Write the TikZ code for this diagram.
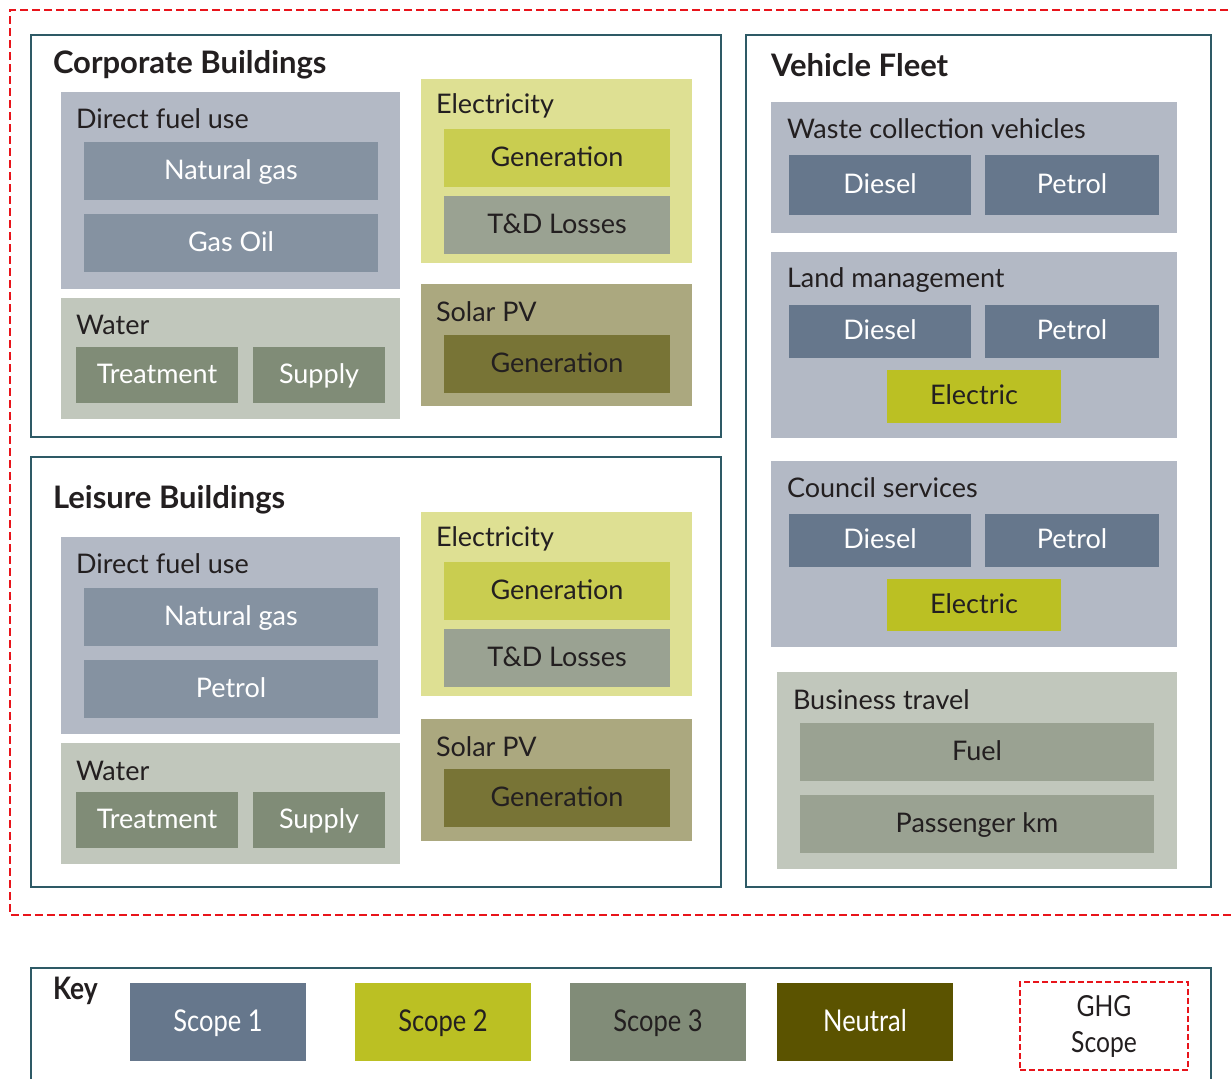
\documentclass[tikz,border=0pt]{standalone}
\usepackage{fontspec}
\setmainfont{Lato}
\definecolor{frame}{HTML}{2E5A66}
\definecolor{ghg}{HTML}{E8141B}
\definecolor{txt}{HTML}{231F20}
\definecolor{dfbg}{HTML}{B3B9C5}
\definecolor{dfit}{HTML}{8592A1}
\definecolor{wbg}{HTML}{C1C7BC}
\definecolor{wit}{HTML}{808C77}
\definecolor{ebg}{HTML}{DEE093}
\definecolor{egen}{HTML}{C9CD50}
\definecolor{etd}{HTML}{9AA292}
\definecolor{sbg}{HTML}{ABA87F}
\definecolor{sgen}{HTML}{787436}
\definecolor{sone}{HTML}{66778C}
\definecolor{stwo}{HTML}{BBC023}
\definecolor{sthree}{HTML}{818C78}
\definecolor{neut}{HTML}{5B5300}
\newcommand{\bx}[7]{\node[#6, anchor=north west, minimum width={#4-#2}, minimum height={#5-#3}] (#1) at (#2,#3) {#7};}
\tikzset{
  every node/.style={inner sep=0pt, outer sep=0pt, font=\fontsize{27}{32}\selectfont},
  panel/.style={draw=frame, line width=1.4pt, fill=white},
  title/.style={anchor=west, text=txt, font=\fontsize{31}{34}\selectfont\bfseries},
  lbl/.style={anchor=west, text=txt},
  item/.style={text height=16pt, text depth=0pt},
  dfbox/.style={fill=dfbg},
  dfitem/.style={item, fill=dfit, text=white},
  wbox/.style={fill=wbg},
  witem/.style={item, fill=wit, text=white},
  ebox/.style={fill=ebg},
  egenb/.style={item, fill=egen, text=txt},
  etdb/.style={item, fill=etd, text=txt},
  sbox/.style={fill=sbg},
  sgenb/.style={item, fill=sgen, text=txt},
  vitem/.style={item, fill=sone, text=white},
  elitem/.style={item, fill=stwo, text=txt},
  keyitem/.style={text height=19pt, text depth=0pt, font=\fontsize{30}{34}\selectfont},
  ghgline/.style={draw=ghg, line width=2.6pt, dash pattern=on 8pt off 4pt},
}
\begin{document}
\begin{tikzpicture}[x=1pt,y=-1pt]
\useasboundingbox (0,0) rectangle (1232,1079);
% GHG scope outline
\draw[ghgline] (1240,10) -- (10,10) -- (10,915) -- (1240,915);

% ---------- Corporate Buildings ----------
\bx{corp}{31}{35}{721}{437}{panel}{}
\node[title] (corpT) at (53,65) {Corporate Buildings};
\bx{cdf}{61}{92}{400}{289}{dfbox}{}
\node[lbl] (cdfL) at (76,119) {Direct fuel use};
\bx{cng}{84}{142}{378}{200}{dfitem}{Natural gas}
\bx{cgo}{84}{214}{378}{272}{dfitem}{Gas Oil}
\bx{cw}{61}{298}{400}{419}{wbox}{}
\node[lbl] (cwL) at (76,325) {Water};
\bx{cwt}{76}{347}{238}{403}{witem}{Treatment}
\bx{cws}{253}{347}{385}{403}{witem}{Supply}
\bx{ce}{421}{79}{692}{263}{ebox}{}
\node[lbl] (ceL) at (436,106) {Electricity};
\bx{ceg}{444}{129}{670}{187}{egenb}{Generation}
\bx{cet}{444}{196}{670}{254}{etdb}{T\&D Losses}
\bx{cs}{421}{284}{692}{406}{sbox}{}
\node[lbl] (csL) at (436,312) {Solar PV};
\bx{csg}{444}{335}{670}{393}{sgenb}{Generation}

% ---------- Leisure Buildings ----------
\bx{leis}{31}{457}{721}{887}{panel}{}
\node[title] (leisT) at (53,500) {Leisure Buildings};
\bx{ldf}{61}{537}{400}{734}{dfbox}{}
\node[lbl] (ldfL) at (76,564) {Direct fuel use};
\bx{lng}{84}{588}{378}{646}{dfitem}{Natural gas}
\bx{lpe}{84}{660}{378}{718}{dfitem}{Petrol}
\bx{lw}{61}{743}{400}{864}{wbox}{}
\node[lbl] (lwL) at (76,771) {Water};
\bx{lwt}{76}{792}{238}{848}{witem}{Treatment}
\bx{lws}{253}{792}{385}{848}{witem}{Supply}
\bx{le}{421}{512}{692}{696}{ebox}{}
\node[lbl] (leL) at (436,539) {Electricity};
\bx{leg}{444}{562}{670}{620}{egenb}{Generation}
\bx{let}{444}{629}{670}{687}{etdb}{T\&D Losses}
\bx{ls}{421}{719}{692}{841}{sbox}{}
\node[lbl] (lsL) at (436,747) {Solar PV};
\bx{lsg}{444}{769}{670}{827}{sgenb}{Generation}

% ---------- Vehicle Fleet ----------
\bx{veh}{746}{35}{1211}{887}{panel}{}
\node[title] (vehT) at (771,65) {Vehicle Fleet};
\bx{wc}{771}{102}{1177}{233}{dfbox}{}
\node[lbl] (wcL) at (787,129) {Waste collection vehicles};
\bx{wcd}{789}{155}{971}{215}{vitem}{Diesel}
\bx{wcp}{985}{155}{1159}{215}{vitem}{Petrol}
\bx{lm}{771}{252}{1177}{438}{dfbox}{}
\node[lbl] (lmL) at (787,280) {Land management};
\bx{lmd}{789}{305}{971}{358}{vitem}{Diesel}
\bx{lmp}{985}{305}{1159}{358}{vitem}{Petrol}
\bx{lme}{887}{370}{1061}{423}{elitem}{Electric}
\bx{cs2}{771}{461}{1177}{647}{dfbox}{}
\node[lbl] (cs2L) at (787,488) {Council services};
\bx{csd}{789}{514}{971}{567}{vitem}{Diesel}
\bx{csp}{985}{514}{1159}{567}{vitem}{Petrol}
\bx{cse}{887}{579}{1061}{631}{elitem}{Electric}
\bx{bt}{777}{672}{1177}{869}{wbox}{}
\node[lbl] (btL) at (793,700) {Business travel};
\bx{btf}{800}{723}{1154}{781}{etdb}{Fuel}
\bx{btp}{800}{795}{1154}{853}{etdb}{Passenger km}

% ---------- Key ----------
\bx{key}{31}{968}{1211}{1095}{panel}{}
\node[title] (keyT) at (53,991) {\scalebox{0.85}[1]{Key}};
\bx{k1}{130}{983}{306}{1061}{keyitem, fill=sone, text=white}{\scalebox{0.85}[1]{Scope 1}}
\bx{k2}{355}{983}{531}{1061}{keyitem, fill=stwo, text=txt}{\scalebox{0.85}[1]{Scope 2}}
\bx{k3}{570}{983}{746}{1061}{keyitem, fill=sthree, text=txt}{\scalebox{0.85}[1]{Scope 3}}
\bx{k4}{777}{983}{953}{1061}{keyitem, fill=neut, text=white}{\scalebox{0.85}[1]{Neutral}}
\bx{k5}{1020}{982}{1188}{1070}{draw=ghg, line width=2.4pt, dash pattern=on 6pt off 3pt, fill=white}{}
\node[text=txt, align=center, font=\fontsize{29}{36}\selectfont] (k5T) at (k5.center) {\scalebox{0.85}[1]{GHG}\\\scalebox{0.85}[1]{Scope}};
\end{tikzpicture}
\end{document}
